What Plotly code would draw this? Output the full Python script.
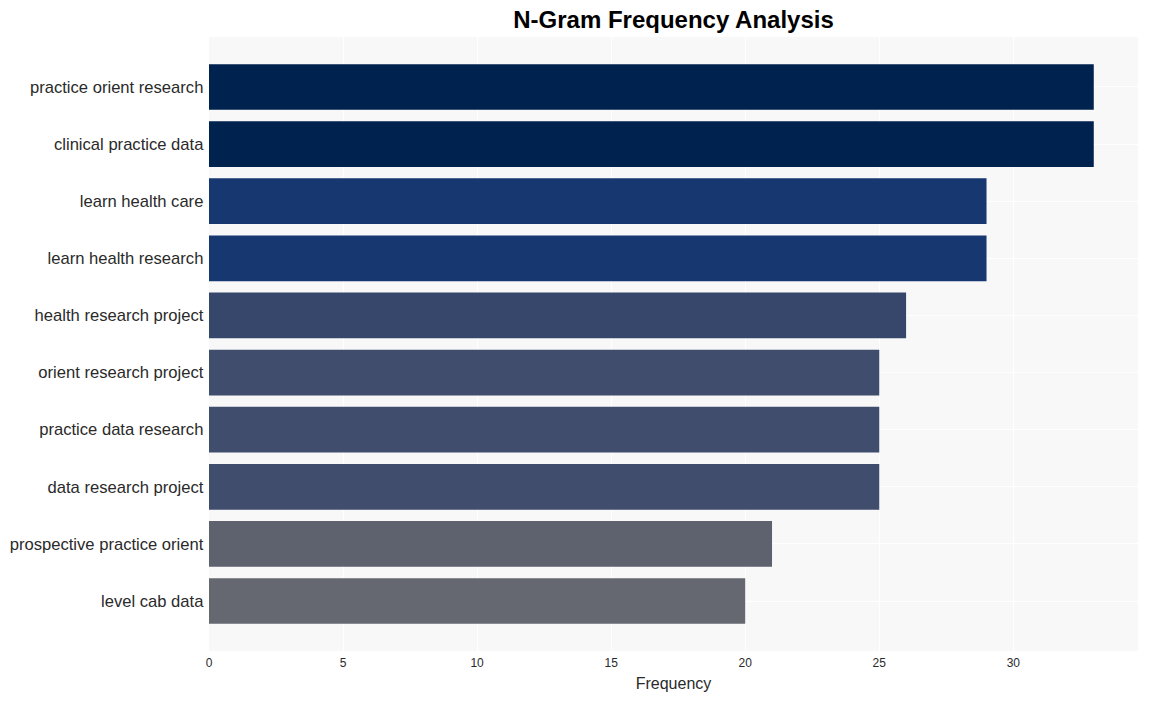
import plotly.graph_objects as go

ngrams = [
    "practice orient research",
    "clinical practice data",
    "learn health care",
    "learn health research",
    "health research project",
    "orient research project",
    "practice data research",
    "data research project",
    "prospective practice orient",
    "level cab data",
]
frequency = [33, 33, 29, 29, 26, 25, 25, 25, 21, 20]
x_ticks = [0, 5, 10, 15, 20, 25, 30]

fig = go.Figure(
    go.Bar(
        x=frequency,
        y=ngrams,
        orientation="h",
        marker=dict(
            color=frequency,
            colorscale="Cividis_r",
            cmin=0,
            cmax=33,
            line=dict(width=0),
        ),
    )
)

fig.update_layout(
    width=1149,
    height=701,
    margin=dict(l=209, r=11, t=37, b=50, autoexpand=False),
    paper_bgcolor="white",
    plot_bgcolor="#f8f8f8",
    bargap=0.2,
    font=dict(family="Liberation Sans, Arial, sans-serif", color="#2a2a2a"),
    title=dict(
        text="<b>N-Gram Frequency Analysis</b>",
        x=0.5,
        xref="paper",
        xanchor="center",
        y=0.972,
        yref="container",
        yanchor="middle",
        font=dict(size=24, color="black"),
    ),
    showlegend=False,
)

fig.update_xaxes(
    title=dict(text="Frequency", font=dict(size=16), standoff=8),
    tickvals=x_ticks,
    range=[0, 34.65],
    showgrid=True,
    gridcolor="white",
    gridwidth=1,
    zeroline=False,
    tickfont=dict(size=12),
    ticklabelstandoff=3,
)
fig.update_yaxes(
    categoryorder="array",
    categoryarray=list(reversed(ngrams)),
    range=[-0.875, 9.875],
    showgrid=True,
    gridcolor="white",
    gridwidth=1,
    tickfont=dict(size=16.6),
    ticksuffix=" ",
)

fig.write_html("out.html")
